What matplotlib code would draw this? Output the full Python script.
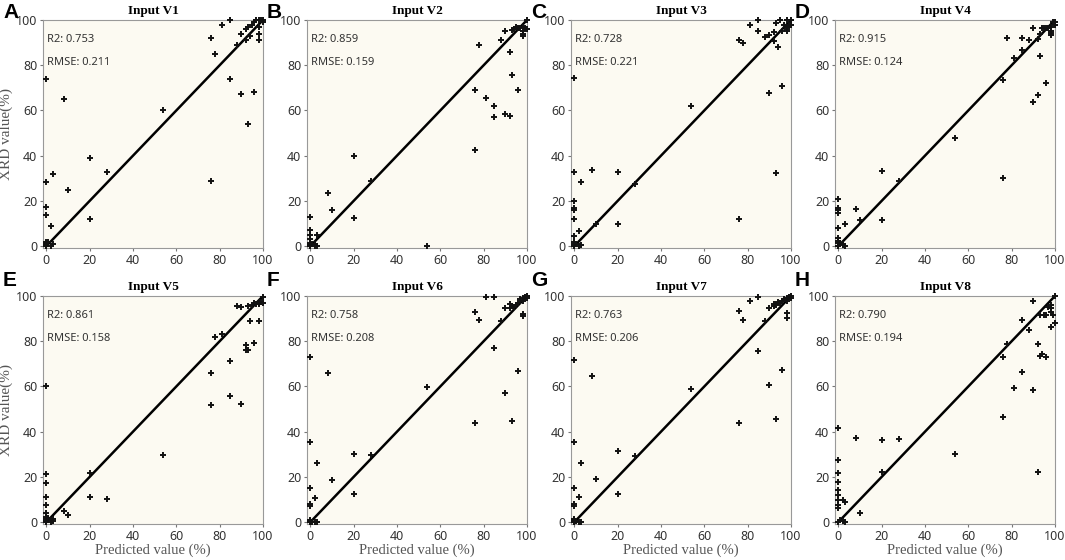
import numpy as np
import matplotlib.pyplot as plt

# shared x positions (predicted value, %)
x_pred = [0, 0, 0, 0, 0, 0, 0, 0, 0, 0,
          1, 2, 2, 3, 3, 8, 10, 20, 20, 28,
          54, 76, 76, 78, 81, 85, 85, 88, 90, 90,
          92, 92, 93, 93, 94, 95, 96, 96, 97, 98,
          98, 98, 98, 99, 100, 100]

# XRD values per input set
y_v1 = [74, 28.5, 17.5, 14, 1.5, 0, 0.5, 1, 0, 2,
        2, 9, 0, 32, 1, 65, 25, 39, 12, 33,
        60, 92, 29, 85, 98, 100, 74, 89, 94, 67.5,
        91, 96, 97, 54, 93, 98, 68, 99, 100, 94,
        91, 100, 97, 100, 100, 99]
y_v2 = [13, 7, 5, 3, 1.5, 0, 0.5, 0, 1, 0,
        1, 0, 1, 5, 0, 23.5, 15.8, 40, 12.5, 29,
        0, 69, 42.5, 89, 65.5, 62, 57, 91, 95, 58.5,
        86, 57.5, 75.5, 95.5, 96, 97, 69, 96.5, 96.5, 95,
        93, 94, 97, 96.5, 100, 96]
y_v3 = [74.5, 32.7, 19.8, 17, 16.2, 12.2, 4.4, 1.8, 0, 1,
        1, 6.6, 0, 28.3, 0.5, 33.5, 10, 32.9, 9.6, 27.3,
        62.2, 91, 12.2, 90, 98, 100, 95, 92.5, 93.5, 67.8,
        94.5, 90.5, 32.4, 98.5, 88, 100, 71, 95, 98, 100,
        96, 97, 95, 98, 100, 98]
y_v4 = [21, 17, 16, 14.7, 8.1, 3.7, 2.2, 1.5, 0.3, 0,
        1.5, 0.7, 1, 10, 0, 16.5, 11.5, 33.2, 11.4, 29,
        48, 73.3, 30, 92.2, 83.3, 92, 86.7, 91.2, 96.3, 63.7,
        91.4, 66.7, 84, 94, 96.6, 96.6, 72.3, 96.6, 96.6, 95,
        94.4, 93.2, 97, 99, 99.3, 98]
y_v5 = [60, 21.5, 17.5, 11.1, 7.7, 4.1, 2.2, 0.7, 0, 1.5,
        1.9, 0.3, 1, 0.7, 1.2, 4.9, 3.4, 21.8, 11.1, 10.4,
        29.6, 66, 52, 82, 83.4, 71.4, 55.9, 95.6, 95.3, 52.4,
        78.5, 76.3, 76.3, 95.6, 88.9, 95.9, 79.3, 96.8, 96.5, 88.9,
        96.3, 97.3, 97, 97.3, 99.7, 97]
y_v6 = [73, 35.3, 15.1, 7.9, 7, 0.7, 0, 0.5, 0, 1,
        0, 0.3, 10.8, 26, 0, 66, 18.8, 30, 12.6, 29.6,
        59.7, 93, 43.7, 89.3, 99.7, 99.7, 77, 88.9, 94.8, 57,
        96.3, 94.8, 95.6, 44.7, 95, 96, 67, 97, 98.5, 91.9,
        91.1, 99, 98, 99.5, 100, 99]
y_v7 = [71.9, 35.6, 15.1, 8.1, 7, 1.5, 0, 0.5, 1, 0,
        0.7, 0, 11.1, 26, 0, 64.7, 19.3, 31.4, 12.3, 29.2,
        59, 93.3, 43.7, 89.3, 98, 99.7, 75.6, 88.9, 94.8, 60.5,
        95.6, 96.3, 45.6, 95.9, 97.3, 96.8, 67.4, 98, 98.5, 92.3,
        90.4, 99, 98, 99.5, 100, 99]
y_v8 = [41.5, 27.6, 21.8, 17.6, 14.4, 11.8, 10, 7.6, 6.2, 0,
        1, 9.6, 0.7, 8.8, 0, 37.2, 4, 36.3, 22.3, 36.8,
        30.1, 73.2, 46.6, 79, 59.5, 89.4, 66.6, 85, 97.8, 58.4,
        78.7, 22.4, 91.5, 73.5, 74.3, 91.5, 73.2, 91.5, 95, 86.5,
        95.9, 94.9, 93, 91.5, 100, 88.2]

titles = ['Input V1', 'Input V2', 'Input V3', 'Input V4',
          'Input V5', 'Input V6', 'Input V7', 'Input V8']
letters = ['A', 'B', 'C', 'D', 'E', 'F', 'G', 'H']
r2_vals = [0.753, 0.859, 0.728, 0.915, 0.861, 0.758, 0.763, 0.790]
rmse_vals = [0.211, 0.159, 0.221, 0.124, 0.158, 0.208, 0.206, 0.194]
y_all = [y_v1, y_v2, y_v3, y_v4, y_v5, y_v6, y_v7, y_v8]

W, H = 1065, 560
fig = plt.figure(figsize=(W / 100, H / 100), dpi=100)

col_left = [43, 307, 571, 835]
row_top = [20, 296]
letter_y = [12.5, 281]
ax_w, ax_h = 220, 228

for i in range(8):
    r, c = divmod(i, 4)
    left = col_left[c]
    top = row_top[r]
    ax = fig.add_axes([left / W, 1 - (top + ax_h) / H, ax_w / W, ax_h / H])
    ax.set_facecolor('#fcfaf2')

    ax.plot([0, 100], [0, 100], color='black', lw=1.8, zorder=2)
    ax.plot(x_pred, y_all[i], linestyle='none', marker='+', ms=4.5, mew=1.4,
            color='#111111', zorder=3, clip_on=False)

    ax.set_xlim(-1.5, 100)
    ax.set_ylim(-0.8, 100)
    ax.set_xticks([0, 20, 40, 60, 80, 100])
    ax.set_yticks([0, 20, 40, 60, 80, 100])
    ax.tick_params(length=2.5, width=0.8, color='#777777', labelcolor='#333333',
                   labelsize=9, pad=1.5)
    for lab in ax.get_xticklabels() + ax.get_yticklabels():
        lab.set_family('Noto Sans')
    for s in ax.spines.values():
        s.set_color('#999999')
        s.set_linewidth(0.8)

    ax.set_title(titles[i], family='Liberation Serif', fontweight='bold',
                 fontsize=9.5, pad=4)
    ax.text(0.02, 0.915, f'R2: {r2_vals[i]:.3f}', transform=ax.transAxes,
            family='Noto Sans', fontsize=8, color='#333333', va='center')
    ax.text(0.02, 0.815, f'RMSE: {rmse_vals[i]:.3f}', transform=ax.transAxes,
            family='Noto Sans', fontsize=8, color='#333333', va='center')

    if c == 0:
        ax.set_ylabel('XRD value(%)', family='Liberation Serif', fontsize=11,
                      color='#555555')
        ax.yaxis.set_label_coords((13 - left) / ax_w, 0.5)
    if r == 1:
        ax.set_xlabel('Predicted value (%)', family='Liberation Serif',
                      fontsize=10.5, color='#555555', labelpad=1)

    fig.text((left - 40) / W, 1 - letter_y[r] / H, letters[i],
             family='Liberation Sans', fontweight='bold', fontsize=15,
             va='center', ha='left')

fig.savefig('out.png', dpi=100, facecolor='white')
